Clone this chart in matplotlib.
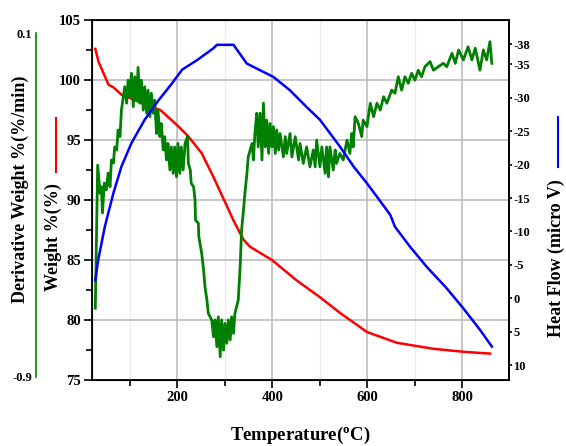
import matplotlib
matplotlib.use('Agg')
import matplotlib.pyplot as plt
from matplotlib.lines import Line2D
from matplotlib.ticker import MultipleLocator, FixedLocator

plt.rcParams['font.family'] = 'Liberation Serif'
plt.rcParams['font.weight'] = 'bold'
plt.rcParams['mathtext.fontset'] = 'custom'
plt.rcParams['mathtext.rm'] = 'Liberation Serif:bold'
plt.rcParams['mathtext.bf'] = 'Liberation Serif:bold'
plt.rcParams['axes.unicode_minus'] = False

# Weight % (red)
temp_w = [27, 34, 55, 65, 83, 100, 136, 164, 199, 223, 251, 276, 297, 318, 339,
          353, 399, 451, 500, 542, 599, 662, 739, 802, 858]
weight = [102.6, 101.5, 99.6, 99.4, 98.75, 98.5, 97.9, 97.5, 96.25, 95.3, 93.9,
          91.9, 90.1, 88.3, 86.7, 86.1, 85.0, 83.3, 81.9, 80.6, 79.0, 78.1, 77.6,
          77.35, 77.2]

# Heat flow (blue)
temp_h = [27, 33, 47, 65, 82, 103, 131, 159, 187, 210, 241, 276, 283, 318, 328,
          346, 360, 402, 437, 472, 500, 521, 542, 571, 599, 620, 648, 658, 690,
          725, 767, 802, 837, 862]
heat = [-2.7, -5.7, -10.7, -15.7, -19.7, -23.2, -26.7, -29.5, -32.0, -34.2,
        -35.6, -37.4, -37.9, -37.9, -36.9, -35.1, -34.6, -33.1, -31.1, -28.6,
        -26.7, -24.7, -22.7, -19.7, -17.2, -15.2, -12.5, -10.7, -7.7, -4.7,
        -1.5, 1.5, 4.7, 7.2]

# Derivative weight (green, noisy)
temp_d = [27, 32, 37, 40, 42, 46, 50, 54, 58, 61, 65, 68, 72, 75, 79, 82, 86, 89,
          93, 96, 100, 103, 107, 110, 114, 117, 121, 124, 128, 131, 135, 138, 142,
          145, 149, 152, 156, 159, 163, 166, 170, 173, 177, 180, 184, 187, 191,
          194, 198, 201, 205, 208, 212, 216, 221, 223, 227, 229, 234, 237, 238,
          244, 245, 251, 255, 258, 262, 265, 272, 276, 279, 283, 286, 290, 293,
          297, 300, 304, 307, 311, 314, 318, 321, 328, 332, 335, 339, 342, 346,
          349, 357, 360, 363, 367, 370, 374, 378, 381, 385, 388, 392, 395, 399,
          402, 406, 409, 413, 416, 423, 427, 430, 437, 441, 448, 455, 458, 465,
          472, 479, 486, 490, 493, 500, 504, 511, 514, 518, 521, 528, 532, 535,
          542, 549, 557, 563, 567, 570, 574, 581, 588, 591, 599, 606, 613, 620,
          627, 634, 641, 651, 658, 665, 672, 679, 686, 693, 700, 707, 714, 721,
          732, 739, 749, 760, 767, 778, 785, 792, 802, 812, 820, 827, 837, 844,
          851, 858, 862]
deriv = [-0.700, -0.284, -0.366, -0.347, -0.423, -0.336, -0.356, -0.307, -0.347,
         -0.269, -0.278, -0.231, -0.240, -0.182, -0.201, -0.124, -0.085, -0.056,
         -0.104, -0.037, -0.085, -0.017, -0.114, -0.027, -0.095, 0.000, -0.104,
         -0.037, -0.124, -0.056, -0.133, -0.066, -0.143, -0.075, -0.133, -0.095,
         -0.192, -0.124, -0.201, -0.163, -0.240, -0.201, -0.269, -0.221, -0.298,
         -0.231, -0.308, -0.231, -0.318, -0.221, -0.308, -0.231, -0.298, -0.221,
         -0.201, -0.279, -0.298, -0.337, -0.347, -0.385, -0.444, -0.453, -0.492,
         -0.540, -0.589, -0.638, -0.676, -0.715, -0.734, -0.783, -0.734, -0.812,
         -0.725, -0.841, -0.734, -0.822, -0.744, -0.802, -0.734, -0.792, -0.725,
         -0.773, -0.715, -0.676, -0.579, -0.473, -0.415, -0.366, -0.313, -0.260,
         -0.221, -0.269, -0.192, -0.133, -0.231, -0.133, -0.269, -0.104, -0.231,
         -0.153, -0.250, -0.163, -0.231, -0.172, -0.250, -0.182, -0.240, -0.192,
         -0.260, -0.201, -0.250, -0.192, -0.260, -0.201, -0.269, -0.221, -0.279,
         -0.231, -0.289, -0.240, -0.289, -0.211, -0.289, -0.231, -0.308, -0.231,
         -0.318, -0.231, -0.298, -0.240, -0.279, -0.250, -0.269, -0.211, -0.250,
         -0.192, -0.231, -0.143, -0.163, -0.201, -0.153, -0.172, -0.104, -0.143,
         -0.104, -0.124, -0.085, -0.104, -0.066, -0.075, -0.027, -0.066, -0.027,
         -0.046, -0.017, -0.037, -0.008, -0.027, 0.002, 0.017, -0.008, 0.002,
         0.012, 0.002, 0.041, 0.012, 0.051, 0.022, 0.060, 0.022, 0.056, -0.008,
         0.051, 0.022, 0.075, 0.012]

x_ticks = [200, 400, 600, 800]
heat_ticks = [-38, -35, -30, -25, -20, -15, -10, -5, 0, 5, 10]
deriv_ticks = [-0.9, 0.1]

fig = plt.figure(figsize=(5.66, 4.46), dpi=100)
ax = fig.add_axes([0.1625, 0.148, 0.7367, 0.807])

ax.plot(temp_w, weight, c='red', lw=1.8)
ax.set_xlim(20, 898)
ax.set_ylim(75, 105)
ax.xaxis.set_major_locator(FixedLocator(x_ticks))
ax.xaxis.set_minor_locator(MultipleLocator(100))
ax.yaxis.set_major_locator(MultipleLocator(5))
ax.yaxis.set_minor_locator(MultipleLocator(2.5))
ax.grid(which='major', color='#b8b8b8', lw=1.1)
ax.grid(which='minor', axis='x', color='#ececec', lw=1)
ax.set_axisbelow(True)
ax.tick_params(direction='out', length=6, width=1.2, labelsize=10.5, pad=2)
ax.tick_params(which='minor', direction='out', length=4, width=1.2)
for s in ax.spines.values():
    s.set_linewidth(1.3)
ax.set_xlabel(r'$\mathbf{Temperature(^{o}C)}$', fontsize=13.5, labelpad=15)

# derivative axis, moved to the far left
ax3 = ax.twinx()
ax3.plot(temp_d, deriv, c='green', lw=2)
ax3.set_ylim(-0.9087, 0.1378)
ax3.yaxis.tick_left()
for side in ['top', 'bottom', 'right']:
    ax3.spines[side].set_visible(False)
ax3.spines['left'].set_visible(True)
ax3.spines['left'].set_position(('axes', -0.134))
ax3.spines['left'].set_bounds(-0.9, 0.1)
ax3.spines['left'].set_color('green')
ax3.spines['left'].set_linewidth(1.2)
ax3.set_yticks(deriv_ticks)
ax3.set_yticklabels(['-0.9', '0.1'])
ax3.tick_params(axis='y', length=0, labelsize=9, pad=3)

# heat flow axis on the right, inverted
ax2 = ax.twinx()
ax2.plot(temp_h, heat, c='blue', lw=1.8)
ax2.set_ylim(12.2, -41.6)
ax2.yaxis.set_major_locator(FixedLocator(heat_ticks))
ax2.tick_params(axis='y', length=2, width=1.2, labelsize=9, pad=1)
ax2.spines['right'].set_linewidth(1.3)

fig.text(20 / 566, 1 - 189 / 446, 'Derivative Weight %(%/min)', rotation=90,
         ha='center', va='center', fontsize=13)
fig.text(53 / 566, 1 - 237 / 446, 'Weight %(%)', rotation=90,
         ha='center', va='center', fontsize=13)
fig.text(556 / 566, 1 - 258 / 446, 'Heat Flow (micro V)', rotation=90,
         ha='center', va='center', fontsize=13)
fig.add_artist(Line2D([56 / 566, 56 / 566], [1 - 118 / 446, 1 - 172 / 446],
                      color='red', lw=1.5, transform=fig.transFigure))
fig.add_artist(Line2D([558 / 566, 558 / 566], [1 - 117 / 446, 1 - 167 / 446],
                      color='blue', lw=1.5, transform=fig.transFigure))

fig.savefig('out.png', dpi=100)
